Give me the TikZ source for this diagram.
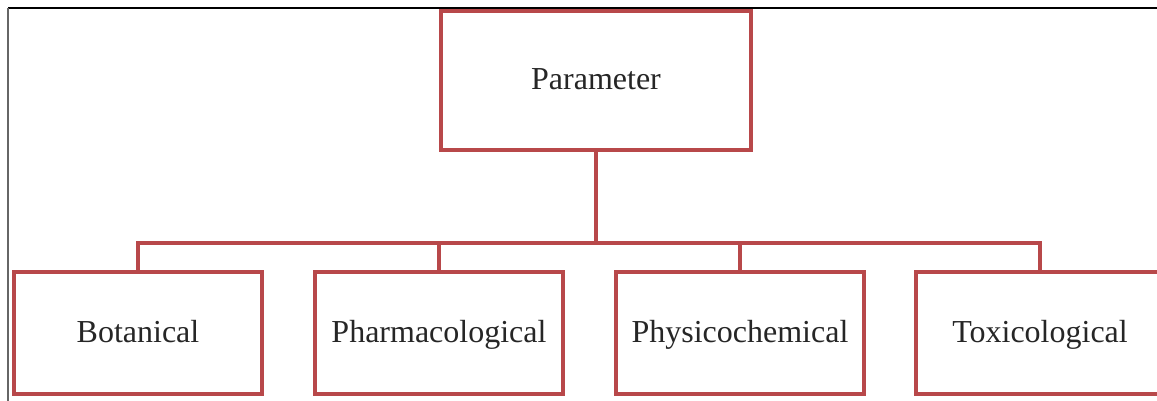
\documentclass[tikz,border=0pt]{standalone}
\usepackage{fontspec}
\setmainfont{Liberation Serif}
\definecolor{boxred}{RGB}{184,72,74}
\begin{document}
\begin{tikzpicture}[x=1pt,y=-1pt,
  lbl/.style={font=\fontsize{32}{36}\selectfont,text=black!85,
    text height=24pt,text depth=6pt},
  box/.style={lbl,draw=boxred,line width=4pt,fill=white,inner sep=0pt},
  link/.style={draw=boxred,line width=4pt}]
\useasboundingbox (0,0) rectangle (1157,401);
\fill[white] (0,0) rectangle (1157,401);
\draw[black,line width=1.6pt] (8,8) -- (1157,8);
\draw[black!60,line width=1.6pt] (8,8) -- (8,401);
\node[box,minimum width=310pt,minimum height=139pt] (par) at (596,81) {Parameter};
\node[box,minimum width=248pt,minimum height=122pt] (bot) at (138,333) {Botanical};
\node[box,minimum width=248pt,minimum height=122pt] (pha) at (439,333) {Pharmacological};
\node[box,minimum width=248pt,minimum height=122pt] (phy) at (740,333) {Physicochemical};
\draw[boxred,line width=4pt,fill=white] (1163,394) -- (916,394) -- (916,272) -- (1163,272);
\coordinate (toxtop) at (1040,272);
\node[lbl] (tox) at (1040,333) {Toxicological};
\coordinate (bar) at (596,243);
\draw[link] (par.south) -- (bar);
\draw[link] (bot.north) |- (bar) -| (toxtop);
\draw[link] (pha.north) -- (pha.north |- bar);
\draw[link] (phy.north) -- (phy.north |- bar);
\end{tikzpicture}
\end{document}
